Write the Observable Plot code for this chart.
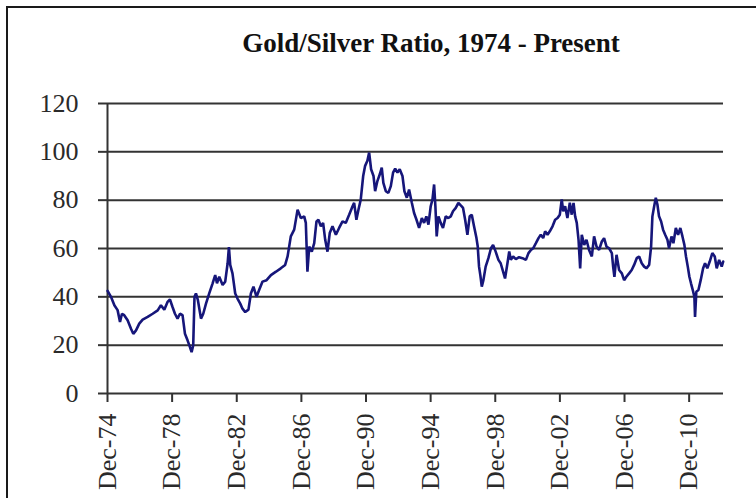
<!DOCTYPE html>
<html><head><meta charset="utf-8">
<script src="https://cdn.jsdelivr.net/npm/d3@7"></script>
<script src="https://cdn.jsdelivr.net/npm/@observablehq/plot@0.6"></script>
<style>
html,body{margin:0;padding:0;background:#fff;}
#wrap{position:relative;width:756px;height:498px;overflow:hidden;}
#frame{position:absolute;left:6px;top:6px;width:800px;height:600px;border-left:2px solid #1a1a1a;border-top:2px solid #1a1a1a;}
#chart{position:absolute;left:0;top:0;}
#title{position:absolute;left:431px;top:30px;transform:translateX(-50%);white-space:nowrap;font:bold 27px "Liberation Serif",serif;line-height:27px;color:#111;}
</style></head><body>
<div id="wrap"><div id="frame"></div><div id="chart"></div><div id="title">Gold/Silver Ratio, 1974 - Present</div></div>
<script>
// Decimal years (time) and gold/silver ratio values
const years = [
1974.92,1975.13,1975.34,1975.54,1975.69,1975.81,1975.95,1976.16,1976.37,1976.51,1976.68,1976.88,1977.09,1977.40,1977.71,1978.02,1978.22,1978.43,1978.63,1978.78,1978.94,1979.09,1979.25,1979.40,1979.56,1979.71,1979.87,1980.02,1980.12,1980.22,1980.30,1980.39,1980.51,1980.70,1980.84,1981.01,1981.21,1981.42,1981.58,1981.69,1981.83,1982.04,1982.20,1982.35,1982.43,1982.51,1982.65,1982.82,1982.96,1983.13,1983.27,1983.44,1983.64,1983.79,1983.95,1984.14,1984.30,1984.51,1984.76,1985.03,1985.34,1985.64,1985.91,1986.06,1986.26,1986.47,1986.68,1986.88,1987.09,1987.19,1987.29,
1987.40,1987.56,1987.71,1987.85,1987.97,1988.12,1988.26,1988.39,1988.53,1988.67,1988.84,1989.05,1989.25,1989.46,1989.66,1989.87,1990.04,1990.18,1990.32,1990.45,1990.59,1990.74,1990.86,1991.00,1991.11,1991.23,1991.38,1991.48,1991.62,1991.77,1991.89,1991.99,1992.14,1992.30,1992.45,1992.59,1992.72,1992.86,1993.00,1993.17,1993.29,1993.44,1993.58,1993.75,1993.89,1994.04,1994.20,1994.37,1994.51,1994.65,1994.78,1994.92,1995.03,1995.13,1995.21,1995.29,1995.40,1995.54,1995.68,1995.85,1996.01,1996.16,1996.30,1996.47,1996.63,1996.78,1996.92,1997.05,1997.19,1997.33,1997.46,1997.60,1997.75,1997.83,1997.91,1997.99,1998.08,1998.18,1998.32,1998.49,1998.65,1998.78,1998.94,1999.11,1999.25,1999.40,1999.52,
1999.67,1999.78,1999.88,2000.02,2000.19,2000.39,2000.60,2000.81,2000.97,2001.12,2001.26,2001.43,2001.59,2001.73,2001.88,2002.00,2002.15,2002.29,2002.46,2002.62,2002.77,2002.91,2003.03,2003.12,2003.24,2003.38,2003.53,2003.65,2003.76,2003.86,2003.96,2004.07,2004.17,2004.27,2004.42,2004.56,2004.72,2004.89,2005.03,2005.18,2005.34,2005.51,2005.65,2005.80,2005.96,2006.13,2006.21,2006.29,2006.42,2006.58,2006.75,2006.89,2007.03,2007.20,2007.36,2007.51,2007.67,2007.82,2007.98,2008.13,2008.27,2008.44,2008.56,2008.64,2008.75,2008.85,2008.95,2009.05,2009.18,2009.30,2009.43,2009.57,2009.67,2009.82,2009.94,2010.09,2010.23,2010.37,2010.50,2010.62,2010.72,2010.83,2010.93,2011.03,2011.14,2011.24,2011.28,2011.36,2011.49,2011.63,2011.78,2011.90,2012.04,2012.19,2012.35,2012.50,2012.62,2012.77,2012.93,2013.02
];
const ratios = [
42.5,40,36.5,34.5,29.6,33,32.4,30.3,26.8,24.7,26.1,28.9,30.6,31.7,33,34.4,36.5,34.7,37.9,38.9,35.8,33,31,33,32.4,24.7,22,19.2,17.1,19.9,40,41.4,38.6,31,33,37.2,41.4,45.6,49,45.6,48.3,44.9,46.3,53.9,60.6,53.2,49.7,41.4,39.3,37.2,35.1,33.7,34.7,41.4,44.2,40,42.8,46.3,46.9,49,50.4,51.8,53.2,56.7,65,67.8,76.1,72.6,73.3,70.6,50.4,
60.8,58.7,62.2,71.2,71.9,69.2,70.6,63.6,58.7,66.4,69.2,65.7,68.5,71.2,70.6,74,76.8,78.9,71.9,76.1,80.3,90,94.2,96.3,99.7,92.8,90,83.7,87.9,90.7,93.5,87.2,83.7,83,85.8,91.4,93.1,91.4,92.8,90,83.7,81,84.4,78.9,74.7,71.9,68.5,72.6,70.6,73.3,69.9,77.5,80.3,86.5,77.5,65,73.3,70.6,68.5,73.3,72.6,73.3,75.4,76.8,78.9,77.8,76.8,71.9,65.7,73.3,74,69.2,64.3,60.8,52.5,49,44.2,46.9,52.5,56,60.1,61.5,58.7,55.3,53.9,50.4,47.6,
53.9,58.8,55.3,56.7,55.6,56.4,56,55.3,58.1,59.4,60.1,62.2,64.3,65.7,64.3,67.1,65.7,67.1,69.2,71.9,72.6,74,80.3,75.4,77.5,72.6,78.9,74,78.9,73.3,70.6,63.6,51.8,65.7,61.5,63.6,59.4,56.7,65,60.8,59.4,62.9,64.3,60.8,60.1,58.1,52.5,48.3,57.4,51.1,49.7,46.9,48.3,49.7,51.1,53.2,56,56.7,53.9,52.5,51.8,53.2,60.8,73.3,77.5,81,78.2,73.3,71.2,67.8,65.7,63.6,60.1,65,62.2,68.5,65.7,68.5,65,61.5,56.7,52.5,48.3,45.6,42.8,40,31.7,42.1,42.8,46.9,51.8,53.9,51.8,54.6,58.1,56.7,51.8,55.3,52.5,54.6
];
const yTicks = [0, 20, 40, 60, 80, 100, 120];
const xTickYears = [1974, 1978, 1982, 1986, 1990, 1994, 1998, 2002, 2006, 2010];

function toDate(t) {
  const y = Math.floor(t);
  const a = Date.UTC(y, 0, 1), b = Date.UTC(y + 1, 0, 1);
  return new Date(a + (t - y) * (b - a));
}
const data = years.map((t, i) => ({date: toDate(t), ratio: ratios[i]}));
const xTicks = xTickYears.map(y => new Date(Date.UTC(y, 11, 1)));
const x0 = new Date(Date.UTC(1974, 11, 1));
const x1 = toDate(2013.04);
const fmt = d3.utcFormat("%b-%y");

const chart = Plot.plot({
  width: 756, height: 498,
  marginLeft: 107, marginRight: 33, marginTop: 103, marginBottom: 105,
  style: {fontFamily: '"Liberation Serif", serif', fontSize: "26px", background: "transparent", color: "#2a2a2a"},
  x: {type: "utc", domain: [x0, x1]},
  y: {domain: [0, 120]},
  marks: [
    Plot.gridY(yTicks, {stroke: "#333", strokeOpacity: 1, strokeWidth: 2}),
    Plot.ruleX([x0], {stroke: "#333", strokeWidth: 2}),
    Plot.axisY({ticks: yTicks, tickSize: 9, tickPadding: 20, fontSize: 26, stroke: "#333", strokeWidth: 2, label: null}),
    Plot.axisX({ticks: xTicks, tickSize: 9, tickPadding: 11, tickRotate: -90, fontSize: 26, tickFormat: fmt, stroke: "#333", strokeWidth: 2, label: null}),
    Plot.lineY(data, {x: "date", y: "ratio", stroke: "#16167a", strokeWidth: 2.6, strokeLinejoin: "miter"})
  ]
});
document.getElementById("chart").appendChild(chart);
</script>
</body></html>
